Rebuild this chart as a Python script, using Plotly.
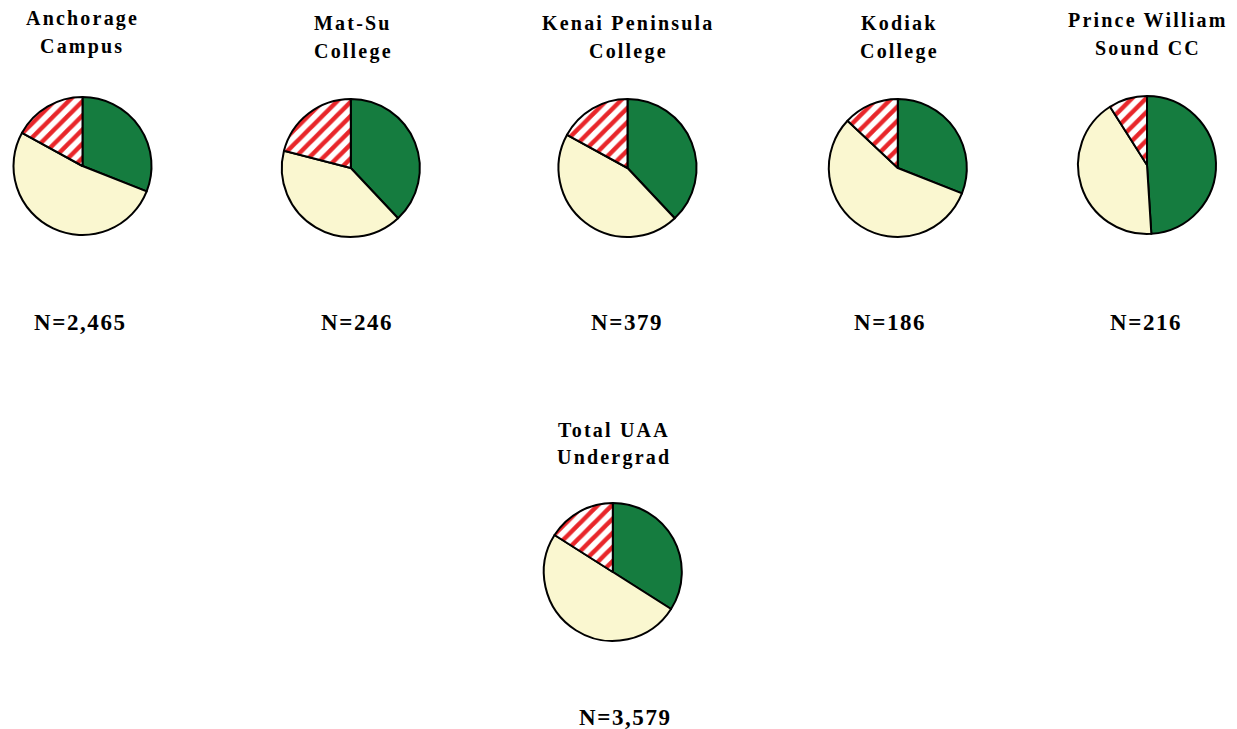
import plotly.graph_objects as go

campuses = [["Anchorage", "Campus"], ["Mat-Su", "College"], ["Kenai Peninsula", "College"],
            ["Kodiak", "College"], ["Prince William", "Sound CC"], ["Total UAA", "Undergrad"]]
n_labels = ["N=2,465", "N=246", "N=379", "N=186", "N=216", "N=3,579"]
categories = ["Green", "Yellow", "Red"]
green = [31, 38, 38, 31, 49, 34]
yellow = [52, 41, 45, 56, 42, 50]
red = [17, 21, 17, 13, 9, 16]

W, H = 1237, 729
# pixel layout (centre x, centre y) of each pie
centers = [(82.5, 166), (350.8, 168), (627.5, 168), (897.8, 168), (1147, 165), (612.8, 572)]
title_pos = [(82, 19, 47), (353, 23, 52), (628, 23, 52), (899, 23, 52), (1148, 20, 48), (614, 430, 458)]
n_pos = [(80, 322), (357, 322), (627, 322), (890, 322), (1146, 322), (626, 717)]
D = 138

fig = go.Figure()
for i in range(6):
    cx, cy = centers[i]
    fig.add_trace(go.Pie(
        labels=categories,
        values=[green[i], yellow[i], red[i]],
        sort=False, direction="clockwise", rotation=0,
        textinfo="none", hoverinfo="label+percent",
        showlegend=False,
        marker=dict(
            colors=["#157C3F", "#FAF7D0", "#FFFFFF"],
            line=dict(color="black", width=2),
            pattern=dict(shape=["", "", "/"], fgcolor="#E8262A", bgcolor="#FFFFFF",
                         size=10, solidity=0.45),
        ),
        domain=dict(x=[(cx - D / 2) / W, (cx + D / 2) / W],
                    y=[1 - (cy + D / 2) / H, 1 - (cy - D / 2) / H]),
    ))

annotations = []
for i in range(6):
    tx, ty1, ty2 = title_pos[i]
    for line, ty in zip(campuses[i], (ty1, ty2)):
        annotations.append(dict(
            x=tx / W, y=1 - ty / H, xref="paper", yref="paper", showarrow=False,
            text="<span style='letter-spacing:2.2px'><b>" + line + "</b></span>",
            xanchor="center", yanchor="middle",
            font=dict(family="Liberation Serif", size=20, color="black")))
    nx, ny = n_pos[i]
    annotations.append(dict(
        x=nx / W, y=1 - ny / H, xref="paper", yref="paper", showarrow=False,
        text="<span style='letter-spacing:1.6px'><b>" + n_labels[i] + "</b></span>",
        xanchor="center", yanchor="middle",
        font=dict(family="Liberation Serif", size=23, color="black")))

fig.update_layout(width=W, height=H, margin=dict(l=0, r=0, t=0, b=0),
                  paper_bgcolor="white", plot_bgcolor="white",
                  annotations=annotations)
fig.write_html("out.html")
